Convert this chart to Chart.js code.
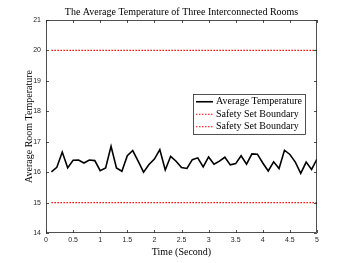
<!DOCTYPE html>
<html>
<head>
<meta charset="utf-8">
<script src="https://cdn.jsdelivr.net/npm/chart.js@4/dist/chart.umd.min.js"></script>
<style>
html,body{margin:0;padding:0;background:#fff;}
#wrap{width:350px;height:263px;position:relative;}
</style>
</head>
<body>
<div id="wrap"><canvas id="c" width="350" height="263"></canvas></div>
<script>
// ---- data ----
const timeValues = [0.1,0.2,0.3,0.4,0.5,0.6,0.7,0.8,0.9,1.0,
                    1.1,1.2,1.3,1.4,1.5,1.6,1.7,1.8,1.9,2.0,
                    2.1,2.2,2.3,2.4,2.5,2.6,2.7,2.8,2.9,3.0,
                    3.1,3.2,3.3,3.4,3.5,3.6,3.7,3.8,3.9,4.0,
                    4.1,4.2,4.3,4.4,4.5,4.6,4.7,4.8,4.9,5.0];
const avgTemperature = [16.01,16.16,16.66,16.14,16.39,16.40,16.30,16.40,16.38,16.05,
                        16.14,16.85,16.14,16.03,16.54,16.71,16.36,16.00,16.25,16.43,
                        16.74,16.07,16.52,16.36,16.15,16.12,16.41,16.47,16.17,16.50,
                        16.26,16.36,16.49,16.24,16.28,16.54,16.26,16.60,16.59,16.30,
                        16.04,16.34,16.12,16.72,16.58,16.33,15.96,16.33,16.09,16.43];
const boundaryTime = [0.1, 5.0];
const upperBoundary = [20, 20];
const lowerBoundary = [15, 15];
const xTickValues = [0,0.5,1,1.5,2,2.5,3,3.5,4,4.5,5];
const yTickValues = [14,15,16,17,18,19,20,21];
const seriesLabels = ['Average Temperature','Safety Set Boundary','Safety Set Boundary'];
const titleText = 'The Average Temperature of Three Interconnected Rooms';
const xTitle = 'Time (Second)';
const yTitle = 'Average Room Temperature';

const toPts = (xs, ys) => xs.map((x, i) => ({x: x, y: ys[i]}));

const AX = '#262626';
const SERIF = '"Liberation Serif", "Times New Roman", serif';
const SANS = '"Liberation Sans", Arial, Helvetica, sans-serif';

const framePlugin = {
  id: 'frame',
  afterDraw(chart) {
    const ctx = chart.ctx;
    const a = chart.chartArea;
    const xs = chart.scales.x, ys = chart.scales.y;
    ctx.save();
    ctx.strokeStyle = AX;
    ctx.lineWidth = 0.8;
    ctx.strokeRect(a.left + 0.5, a.top + 0.5, a.right - a.left - 1, a.bottom - a.top - 1);
    const tl = 3;
    ctx.beginPath();
    xTickValues.forEach(v => {
      const px = Math.round(xs.getPixelForValue(v)) + 0.5;
      ctx.moveTo(px, a.bottom); ctx.lineTo(px, a.bottom - tl);
      ctx.moveTo(px, a.top); ctx.lineTo(px, a.top + tl);
    });
    yTickValues.forEach(v => {
      const py = Math.round(ys.getPixelForValue(v)) + 0.5;
      ctx.moveTo(a.left, py); ctx.lineTo(a.left + tl, py);
      ctx.moveTo(a.right, py); ctx.lineTo(a.right - tl, py);
    });
    ctx.stroke();

    // legend inside the axes
    const ds = chart.data.datasets;
    ctx.font = '10px ' + SERIF;
    let maxW = 0;
    ds.forEach(d => { maxW = Math.max(maxW, ctx.measureText(d.label).width); });
    const sample = 17, gap = 3, padL = 3, padR = 3, rowH = 12.5;
    const boxW = padL + sample + gap + maxW + padR;
    const boxH = rowH * ds.length + 2;
    const right = a.right - 12;
    const left = right - boxW;
    const top = a.top + 74;
    ctx.fillStyle = '#fff';
    ctx.fillRect(left, top, boxW, boxH);
    ctx.strokeStyle = AX;
    ctx.lineWidth = 0.8;
    ctx.strokeRect(Math.round(left) + 0.5, Math.round(top) + 0.5, Math.round(boxW), Math.round(boxH));
    ds.forEach((d, i) => {
      const cy = top + 1 + rowH * (i + 0.5) + 0.5;
      ctx.save();
      ctx.strokeStyle = d.borderColor;
      ctx.lineWidth = d.borderWidth;
      ctx.setLineDash(d.borderDash || []);
      ctx.beginPath();
      ctx.moveTo(left + padL, cy);
      ctx.lineTo(left + padL + sample, cy);
      ctx.stroke();
      ctx.restore();
      ctx.fillStyle = '#000';
      ctx.textBaseline = 'middle';
      ctx.textAlign = 'left';
      ctx.fillText(d.label, left + padL + sample + gap, cy);
    });
    ctx.restore();
  }
};

new Chart(document.getElementById('c'), {
  type: 'line',
  data: {
    datasets: [
      { label: seriesLabels[0], data: toPts(timeValues, avgTemperature),
        borderColor: '#000000', borderWidth: 1.6, pointRadius: 0, tension: 0, fill: false },
      { label: seriesLabels[1], data: toPts(boundaryTime, upperBoundary),
        borderColor: '#ff0000', borderWidth: 1.2, borderDash: [1.5, 1.5], pointRadius: 0, fill: false },
      { label: seriesLabels[2], data: toPts(boundaryTime, lowerBoundary),
        borderColor: '#ff0000', borderWidth: 1.2, borderDash: [1.5, 1.5], pointRadius: 0, fill: false }
    ]
  },
  options: {
    responsive: false,
    animation: false,
    devicePixelRatio: 1,
    layout: { padding: { left: 13, right: 0, top: 0, bottom: 0 } },
    plugins: {
      legend: { display: false },
      tooltip: { enabled: false },
      title: {
        display: true, text: titleText, color: '#000',
        font: { family: SERIF, size: 10, weight: 'normal', lineHeight: 1.2 },
        padding: { top: 6, bottom: 2 }
      }
    },
    scales: {
      x: {
        type: 'linear', min: 0, max: 5,
        afterBuildTicks(s) { s.ticks = xTickValues.map(v => ({ value: v })); },
        afterFit(s) { s.height = 30; },
        grid: { display: false, drawTicks: false },
        border: { display: false },
        ticks: { color: AX, font: { family: SANS, size: 7 }, padding: 3, maxRotation: 0, autoSkip: false,
                 callback: v => String(v) },
        title: { display: true, text: xTitle, color: '#000',
                 font: { family: SERIF, size: 10, lineHeight: 1.2 }, padding: { top: 0, bottom: 5 } }
      },
      y: {
        type: 'linear', min: 14, max: 21,
        afterBuildTicks(s) { s.ticks = yTickValues.map(v => ({ value: v })); },
        afterFit(s) { s.width = 33; },
        grid: { display: false, drawTicks: false },
        border: { display: false },
        ticks: { color: AX, font: { family: SANS, size: 7 }, padding: 5, autoSkip: false,
                 callback: v => String(v) },
        title: { display: true, text: yTitle, color: '#000',
                 font: { family: SERIF, size: 10, lineHeight: 1.2 }, padding: { top: 10, bottom: 0 } }
      },
      yRightSpace: {
        type: 'linear', position: 'right', min: 14, max: 21,
        afterFit(s) { s.width = 33; },
        grid: { display: false, drawTicks: false },
        border: { display: false },
        ticks: { display: false },
        title: { display: false }
      }
    }
  },
  plugins: [framePlugin]
});
</script>
</body>
</html>
